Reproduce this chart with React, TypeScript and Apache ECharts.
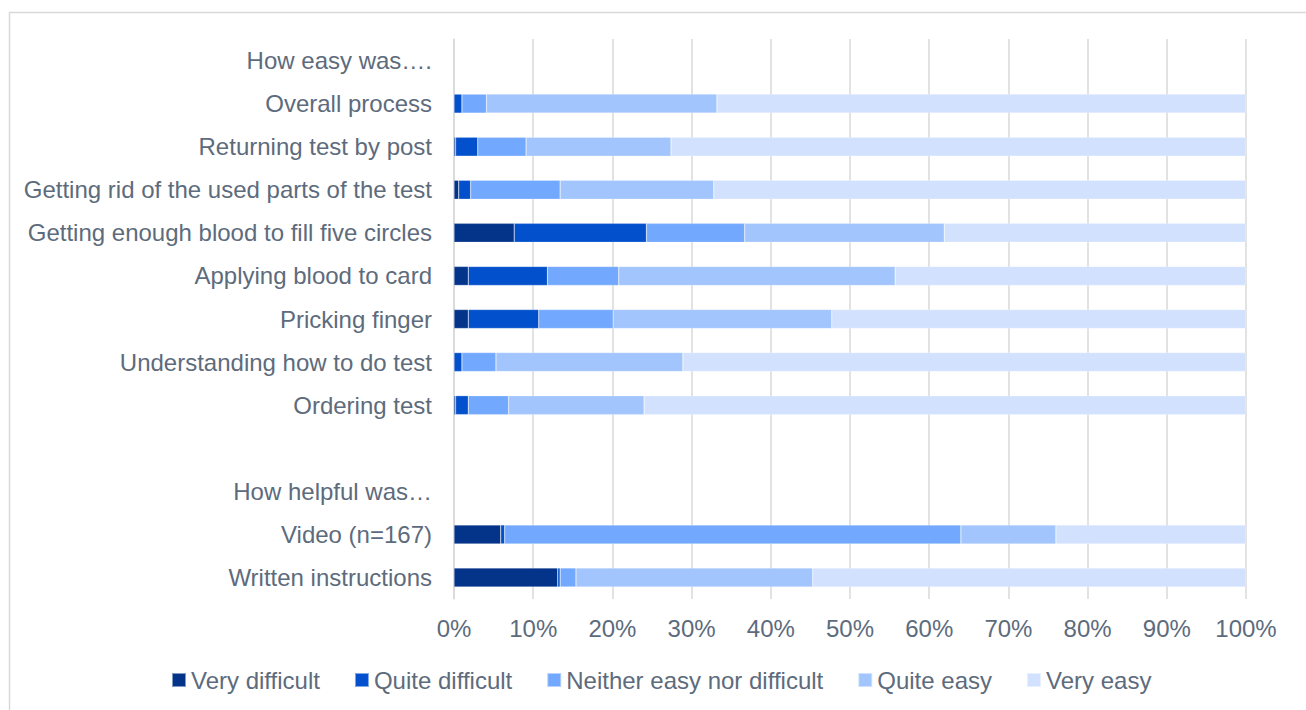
import React, { useEffect, useRef } from "react";
import * as echarts from "echarts";

const categories = [
  "How easy was….",
  "Overall process",
  "Returning test by post",
  "Getting rid of the used parts of the test",
  "Getting enough blood to fill five circles",
  "Applying blood to card",
  "Pricking finger",
  "Understanding how to do test",
  "Ordering test",
  "",
  "How helpful was…",
  "Video (n=167)",
  "Written instructions",
];

const seriesNames = [
  "Very difficult",
  "Quite difficult",
  "Neither easy nor difficult",
  "Quite easy",
  "Very easy",
];

const veryDifficult = [null, 0, 0.2, 0.6, 7.6, 1.8, 1.8, 0, 0.2, null, null, 5.9, 13.1];
const quiteDifficult = [null, 1.0, 2.8, 1.5, 16.7, 10.0, 8.9, 1.0, 1.6, null, null, 0.5, 0.3];
const neither = [null, 3.1, 6.1, 11.3, 12.4, 9.0, 9.4, 4.3, 5.1, null, null, 57.6, 2.0];
const quiteEasy = [null, 29.1, 18.3, 19.4, 25.2, 34.9, 27.6, 23.6, 17.1, null, null, 12.0, 29.9];
const veryEasy = [null, 66.8, 72.6, 67.2, 38.1, 44.3, 52.3, 71.1, 76.0, null, null, 24.0, 54.7];

const seriesValues = [veryDifficult, quiteDifficult, neither, quiteEasy, veryEasy];
const colors = ["#03348a", "#0250cc", "#72a8fd", "#a2c5fe", "#d2e2fe"];

const FONT = "'Liberation Sans', Arial, sans-serif";
const TEXT = "#5d6b7c";

export default function App() {
  const ref = useRef<HTMLDivElement>(null);
  useEffect(() => {
    document.body.style.margin = "0";
    if (!ref.current) return;
    const chart = echarts.init(ref.current, null, { renderer: "svg" });
    chart.setOption({
      animation: false,
      backgroundColor: "#ffffff",
      textStyle: { fontFamily: FONT },
      graphic: [
        {
          type: "rect",
          left: 7,
          top: 10,
          shape: { width: 1298, height: 720 },
          style: { fill: "none", stroke: "#d9d9d9", lineWidth: 1.5 },
          silent: true,
        },
      ],
      grid: { left: 454, right: 60, top: 39, bottom: 111, containLabel: false },
      legend: {
        left: 171,
        top: 668,
        padding: 0,
        itemWidth: 14,
        itemHeight: 14,
        itemGap: 34,
        icon: "rect",
        textStyle: { fontSize: 24, color: TEXT, fontFamily: FONT },
        data: seriesNames,
      },
      xAxis: {
        type: "value",
        min: 0,
        max: 100,
        interval: 10,
        axisLine: { show: false },
        axisTick: { show: false },
        axisLabel: {
          formatter: "{value}%",
          fontSize: 24,
          color: TEXT,
          fontFamily: FONT,
          margin: 17,
        },
        splitLine: { lineStyle: { color: "#d9d9d9", width: 1.5 } },
      },
      yAxis: {
        type: "category",
        inverse: true,
        data: categories,
        axisLine: { show: true, lineStyle: { color: "#d9d9d9", width: 1.5 } },
        axisTick: { show: false },
        axisLabel: {
          fontSize: 24,
          color: TEXT,
          fontFamily: FONT,
          margin: 22,
          interval: 0,
        },
      },
      series: seriesNames.map((name, i) => ({
        name,
        type: "bar",
        stack: "total",
        barWidth: 19,
        data: seriesValues[i],
        itemStyle: {
          color: colors[i],
          borderColor: "rgba(255,255,255,0.5)",
          borderWidth: 0.5,
        },
        emphasis: { disabled: true },
      })),
    });
    return () => chart.dispose();
  }, []);
  return <div ref={ref} style={{ width: 1306, height: 710 }} />;
}
